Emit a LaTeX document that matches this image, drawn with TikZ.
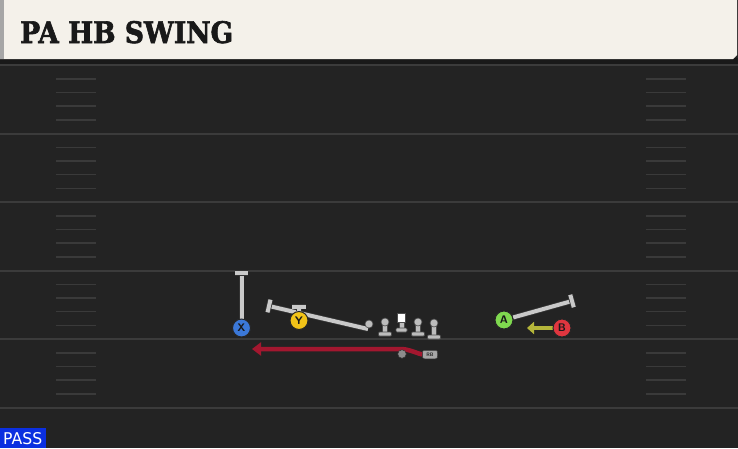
\documentclass[tikz,border=0pt]{standalone}
\usepackage{fontspec}
\setmainfont{DejaVu Sans}
\newfontfamily\titlefont{DejaVu Serif Bold}[FakeBold=2.2]
\usetikzlibrary{arrows.meta,calc}
\definecolor{bgc}{HTML}{232323}
\definecolor{fieldline}{HTML}{3B3B3B}
\definecolor{hashc}{HTML}{3A3A3A}
\definecolor{headc}{HTML}{F4F1EA}
\definecolor{routeg}{HTML}{C9C9C9}
\definecolor{xblue}{HTML}{3B78D8}
\definecolor{yyel}{HTML}{F2C318}
\definecolor{agreen}{HTML}{7FD94F}
\definecolor{bred}{HTML}{E0363F}
\definecolor{redroute}{HTML}{A3172F}
\definecolor{olive}{HTML}{B4B53A}
\definecolor{passblue}{HTML}{0B2FE0}
\definecolor{linem}{HTML}{BDBDBD}
\tikzset{
  player/.style={circle, draw=black!85, line width=1pt, minimum size=18pt, inner sep=0pt,
    font=\sffamily\bfseries\fontsize{11}{11}\selectfont, text=black!90},
  route/.style={line width=4pt, draw=routeg, preaction={draw=black!80, line width=5.6pt}},
  tbar/.style={line width=4pt, draw=routeg, preaction={draw=black!80, line width=5.6pt}},
  hash/.style={line width=1.8pt, draw=hashc},
  fline/.style={line width=2pt, draw=fieldline},
  lineman/.style={fill=linem, draw=black!70, line width=0.6pt},
  rblabel/.style={rounded corners=2pt, fill=black!35, draw=black!80, line width=0.5pt, minimum width=15pt,
    minimum height=8.5pt, inner sep=0pt, font=\sffamily\bfseries\fontsize{5}{5}\selectfont, text=black!85}
}
\begin{document}
\begin{tikzpicture}[x=1pt,y=-1pt]
\useasboundingbox (0,0) rectangle (738,448);
\fill[bgc] (0,0) rectangle (738,448);
% header
\fill[black!90] (0,58) rectangle (738,65);
\fill[headc] (0,0) -- (737,0) -- (737,55) -- (733,59) -- (0,59) -- cycle;
\fill[black!35] (0,0) rectangle (3.5,59);
\node[anchor=base west, inner sep=0pt, text=black!90] (title) at (20,43)
  {\resizebox{213pt}{22pt}{\titlefont PA HB SWING}};
% field lines
\foreach \yy in {65,133.5,202,270.5,339,407.5} {
  \draw[fline] (0,\yy) -- (738,\yy);
}
% hash marks
\foreach \yy in {65,133.5,202,270.5,339} {
  \foreach \off in {14,27.5,41,55} {
    \draw[hash] (56,\yy+\off) -- (96,\yy+\off);
    \draw[hash] (646,\yy+\off) -- (686,\yy+\off);
  }
}
% linemen
\foreach \lx/\hy/\by in {385/322/334, 418/322/334, 434/323/337} {
  \fill[lineman] (\lx-2.5,\hy) rectangle (\lx+2.5,\by);
  \fill[lineman, rounded corners=1pt] (\lx-6.5,\by-2) rectangle (\lx+6.5,\by+2);
  \fill[lineman] (\lx,\hy) circle (4pt);
}
\fill[lineman] (399,320) rectangle (404,330);
\fill[lineman, rounded corners=1pt] (396,328) rectangle (407,332);
\fill[white, draw=black!70, line width=0.6pt] (397,313.5) rectangle (405.5,322);
% players (placeholders for names)
\node[player, fill=xblue] (X) at (241.5,328) {X};
\node[player, fill=yyel] (Y) at (299,320.5) {Y};
\node[player, fill=agreen] (A) at (504,320) {A};
\node[player, fill=bred] (B) at (562,328) {B};
% X route
\coordinate (Xend) at (241.5,273);
\draw[route] (X.north) -- (Xend);
\draw[tbar] ([xshift=-6.5pt]Xend) -- ([xshift=6.5pt]Xend);
% Y route
\coordinate (Yl) at (269,306);
\coordinate (Yr) at (368,329);
\coordinate (Yt) at (299,306.5);
\draw[route] (Yl) -- (Yr);
\draw[tbar] ($(Yl)!6.5pt!90:(Yr)$) -- ($(Yl)!6.5pt!-90:(Yr)$);
\draw[route] (Y.north) -- (Yt);
\draw[tbar] ([xshift=-7pt]Yt) -- ([xshift=7pt]Yt);
\fill[lineman] (369,324) circle (4pt);
% A route
\coordinate (Aend) at (572,301);
\draw[route] (A) -- (Aend);
\draw[tbar] ($(Aend)!6.5pt!90:(A)$) -- ($(Aend)!6.5pt!-90:(A)$);
% B motion
\coordinate (Bend) at (527,328);
\draw[line width=4pt, olive, -{Triangle[length=7pt,width=12pt]}] (B.west) -- (Bend);
% redraw players on top
\node[player, fill=xblue] at (241.5,328) {X};
\node[player, fill=yyel] at (299,320.5) {Y};
\node[player, fill=agreen] at (504,320) {A};
\node[player, fill=bred] at (562,328) {B};
% RB
\coordinate (Rend) at (252,349);
\node[rblabel] (RBl) at (430,354.5) {RB};
\coordinate (Rk) at (400,349);
\draw[line width=4.5pt, redroute, -{Triangle[length=9pt,width=13pt]}] (RBl.west) to[out=165,in=0] (Rk) -- (Rend);
\node[rblabel] at (430,354.5) {RB};
\node[circle, fill=black!45, draw=black!80, line width=0.5pt, minimum size=8.5pt, inner sep=0pt] (RB) at (402,354) {};
% PASS
\node[anchor=south west, fill=passblue, minimum width=46pt, minimum height=20pt, inner sep=0pt] (pass) at (0,448) {};
\node[anchor=base west, inner sep=0pt, text=white] at (3,444.5) {\resizebox{39pt}{12pt}{PASS}};
\end{tikzpicture}
\end{document}
